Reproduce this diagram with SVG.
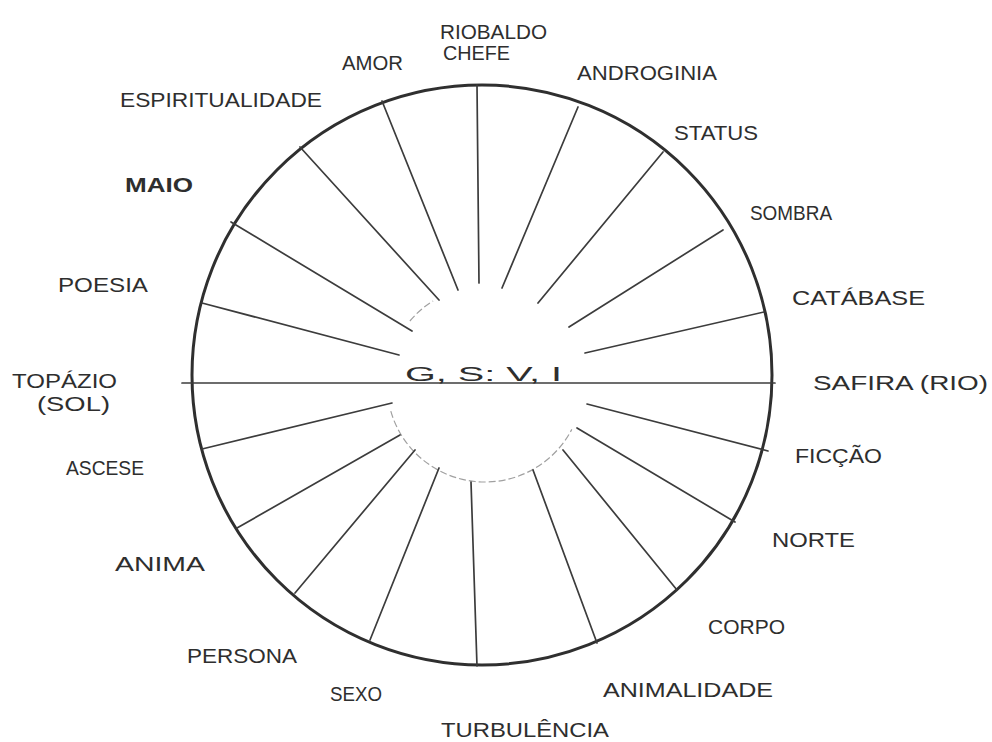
<svg xmlns="http://www.w3.org/2000/svg" width="992" height="742" viewBox="0 0 992 742">
  <style>
    .lbl { font-family: "Liberation Sans", Arial, sans-serif; fill: #2e2e2e; font-size: 21px; }
    .spoke { stroke: #3c3c3c; stroke-width: 1.7; fill: none; stroke-linecap: round; }
    .rim { stroke: #2f2f2f; stroke-width: 3; fill: none; }
    .inner { stroke: #a0a0a0; stroke-width: 1.2; fill: none; stroke-dasharray: 7 3; }
  </style>
  <rect width="992" height="742" fill="#ffffff"/>

  <g id="wheel">
    <circle class="rim" cx="482" cy="375" r="290"/>
    <path class="inner" d="M 390.8 411.2 A 98 98 0 0 0 571.8 429.4"/>
    <path class="inner" d="M 409.9 321 A 98 98 0 0 1 433.1 300.9"/>
  </g>

  <g id="spokes">
    <line class="spoke" x1="182" y1="383" x2="775" y2="383" stroke-width="1.4"/>
    <line class="spoke" x1="202" y1="303" x2="399" y2="355"/>
    <line class="spoke" x1="231" y1="222" x2="412" y2="331" stroke-width="3"/>
    <line class="spoke" x1="300" y1="147" x2="439" y2="300"/>
    <line class="spoke" x1="382" y1="101" x2="458" y2="290"/>
    <line class="spoke" x1="477" y1="85" x2="479" y2="283" stroke-width="2"/>
    <line class="spoke" x1="578" y1="107" x2="502" y2="288"/>
    <line class="spoke" x1="663" y1="152" x2="538" y2="303"/>
    <line class="spoke" x1="723" y1="230" x2="569" y2="327"/>
    <line class="spoke" x1="764" y1="312" x2="585" y2="353"/>
    <line class="spoke" x1="202" y1="449" x2="392" y2="403"/>
    <line class="spoke" x1="237" y1="528" x2="400" y2="435"/>
    <line class="spoke" x1="295" y1="593" x2="415" y2="450"/>
    <line class="spoke" x1="370" y1="640" x2="439" y2="468"/>
    <line class="spoke" x1="477" y1="666" x2="471" y2="482" stroke-width="2.2"/>
    <line class="spoke" x1="597" y1="643" x2="533" y2="470" stroke-width="2.1"/>
    <line class="spoke" x1="677" y1="590" x2="563" y2="450" stroke-width="2.1"/>
    <line class="spoke" x1="735" y1="522" x2="577" y2="428" stroke-width="2"/>
    <line class="spoke" x1="768" y1="451" x2="587" y2="404" stroke-width="2"/>
  </g>

  <g id="center">
    <text class="lbl" x="405" y="381" font-size="34" textLength="157" lengthAdjust="spacingAndGlyphs">G, S: V, I</text>
  </g>

  <g id="riobaldo"><text class="lbl" x="440" y="39" font-size="24" textLength="107" lengthAdjust="spacingAndGlyphs">RIOBALDO</text>
    <text class="lbl" x="443" y="60" font-size="17" textLength="67" lengthAdjust="spacingAndGlyphs">CHEFE</text></g>
  <g id="amor"><text class="lbl" x="342" y="70" font-size="24" textLength="61" lengthAdjust="spacingAndGlyphs">AMOR</text></g>
  <g id="androginia"><text class="lbl" x="577" y="80" font-size="22" textLength="140" lengthAdjust="spacingAndGlyphs">ANDROGINIA</text></g>
  <g id="espiritualidade"><text class="lbl" x="120" y="107" font-size="21" textLength="202" lengthAdjust="spacingAndGlyphs">ESPIRITUALIDADE</text></g>
  <g id="status"><text class="lbl" x="674" y="140" font-size="22" textLength="84" lengthAdjust="spacingAndGlyphs">STATUS</text></g>
  <g id="maio"><text class="lbl" x="125" y="192" font-size="23" font-weight="bold" textLength="68" lengthAdjust="spacingAndGlyphs">MAIO</text></g>
  <g id="sombra"><text class="lbl" x="750" y="220" font-size="19" textLength="82" lengthAdjust="spacingAndGlyphs">SOMBRA</text></g>
  <g id="poesia"><text class="lbl" x="58" y="292" font-size="22" textLength="90" lengthAdjust="spacingAndGlyphs">POESIA</text></g>
  <g id="catabase"><text class="lbl" x="792" y="305" font-size="22" textLength="133" lengthAdjust="spacingAndGlyphs">CATÁBASE</text></g>
  <g id="topazio"><text class="lbl" x="12" y="388" font-size="19" textLength="105" lengthAdjust="spacingAndGlyphs">TOPÁZIO</text>
    <text class="lbl" x="37" y="411" font-size="19" textLength="73" lengthAdjust="spacingAndGlyphs">(SOL)</text></g>
  <g id="safira"><text class="lbl" x="813" y="390" font-size="22" textLength="175" lengthAdjust="spacingAndGlyphs">SAFIRA (RIO)</text></g>
  <g id="ascese"><text class="lbl" x="66" y="475" font-size="21" textLength="78" lengthAdjust="spacingAndGlyphs">ASCESE</text></g>
  <g id="ficcao"><text class="lbl" x="795" y="463" font-size="20" textLength="87" lengthAdjust="spacingAndGlyphs">FICÇÃO</text></g>
  <g id="norte"><text class="lbl" x="772" y="547" font-size="21" textLength="83" lengthAdjust="spacingAndGlyphs">NORTE</text></g>
  <g id="anima"><text class="lbl" x="115" y="571" font-size="21" textLength="90" lengthAdjust="spacingAndGlyphs">ANIMA</text></g>
  <g id="corpo"><text class="lbl" x="708" y="634" font-size="21" textLength="77" lengthAdjust="spacingAndGlyphs">CORPO</text></g>
  <g id="persona"><text class="lbl" x="187" y="663" font-size="22" textLength="110" lengthAdjust="spacingAndGlyphs">PERSONA</text></g>
  <g id="sexo"><text class="lbl" x="330" y="701" font-size="18" textLength="52" lengthAdjust="spacingAndGlyphs">SEXO</text></g>
  <g id="animalidade"><text class="lbl" x="603" y="697" font-size="22" textLength="170" lengthAdjust="spacingAndGlyphs">ANIMALIDADE</text></g>
  <g id="turbulencia"><text class="lbl" x="441" y="737" font-size="22" textLength="168" lengthAdjust="spacingAndGlyphs">TURBULÊNCIA</text></g>
</svg>
